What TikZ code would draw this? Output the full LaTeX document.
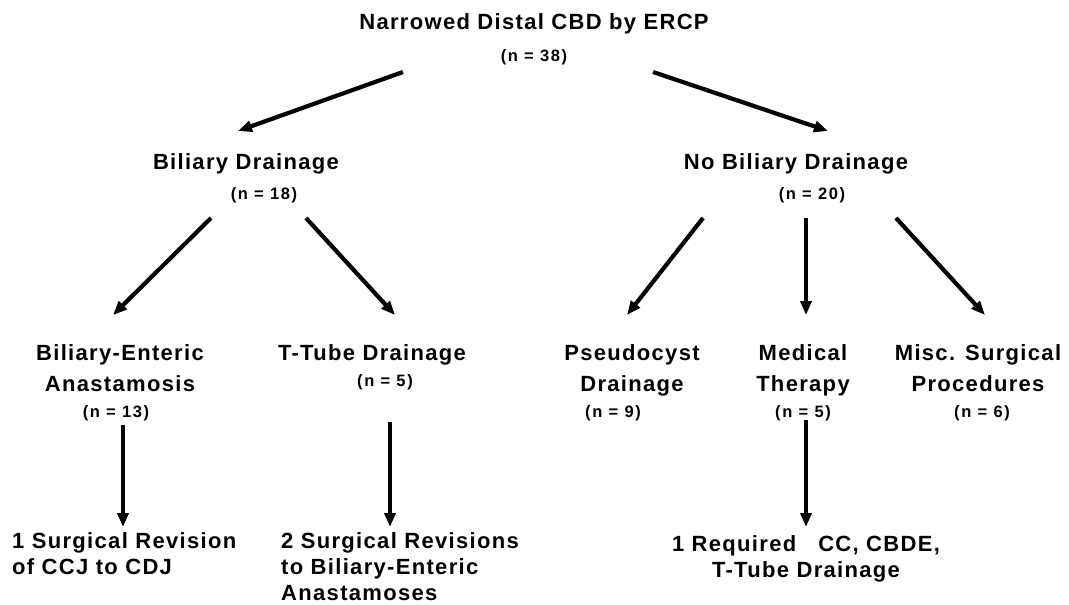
\documentclass[tikz,border=0pt]{standalone}
\usepackage{fontspec}
\setmainfont{Liberation Sans}[LetterSpace=6]
\newfontfamily\nfont{Liberation Sans}[LetterSpace=10]
\usetikzlibrary{arrows.meta}
\begin{document}
\begin{tikzpicture}[x=1pt,y=-1pt,
  ttl/.style={inner sep=0pt,font=\bfseries\fontsize{22}{31}\selectfont},
  low/.style={inner sep=0pt,font=\bfseries\fontsize{22}{26}\selectfont},
  nn/.style={inner sep=0pt,font=\nfont\bfseries\fontsize{16.5}{18}\selectfont},
  arr/.style={line width=4.2pt,-{Triangle[length=14pt,width=11pt]}}]
\useasboundingbox (0,0) rectangle (1069,605);
% level 1
\node[ttl,anchor=base] (top) at (534,29) {Narrowed Distal CBD by ERCP};
\node[nn,anchor=base] (topn) at (534,61) {(n = 38)};
% level 2
\node[ttl,anchor=base] (bd) at (246,169) {Biliary Drainage};
\node[nn,anchor=base] (bdn) at (264,199) {(n = 18)};
\node[ttl,anchor=base] (nbd) at (796,169) {No Biliary Drainage};
\node[nn,anchor=base] (nbdn) at (812,199) {(n = 20)};
% level 3
\node[ttl,anchor=north,align=center] (be) at (120,344) {Biliary-Enteric\\Anastamosis};
\node[nn,anchor=base] (ben) at (116,417) {(n = 13)};
\node[ttl,anchor=base] (tt) at (372,360) {T-Tube Drainage};
\node[nn,anchor=base] (ttn) at (385,386) {(n = 5)};
\node[ttl,anchor=north,align=center] (pc) at (632,344) {Pseudocyst\\Drainage};
\node[nn,anchor=base] (pcn) at (613,417) {(n = 9)};
\node[ttl,anchor=north,align=center] (mt) at (803,344) {Medical\\Therapy};
\node[nn,anchor=base] (mtn) at (803,417) {(n = 5)};
\node[ttl,anchor=north,align=center] (ms) at (978,344) {Misc. Surgical\\Procedures};
\node[nn,anchor=base] (msn) at (982,417) {(n = 6)};
% level 4
\node[low,anchor=north west,align=left] (r1) at (12,532) {1 Surgical Revision\\of CCJ to CDJ};
\node[low,anchor=north west,align=left] (r2) at (281,532) {2 Surgical Revisions\\to Biliary-Enteric\\Anastamoses};
\node[low,anchor=north,align=center] (r3) at (806,535) {1 Required\quad CC, CBDE,\\T-Tube Drainage};
% arrows
\draw[arr] ([shift={(-131,11)}]topn.base) -- ([shift={(-8,-38)}]bd.base);
\draw[arr] ([shift={(119,11)}]topn.base) -- ([shift={(32,-38)}]nbd.base);
\draw[arr] ([shift={(-53,19)}]bdn.base) -- ([shift={(-7,-29)}]be.north);
\draw[arr] ([shift={(42,19)}]bdn.base) -- ([shift={(23,-45)}]tt.base);
\draw[arr] ([shift={(-109,19)}]nbdn.base) -- ([shift={(-5,-29)}]pc.north);
\draw[arr] ([shift={(-6,19)}]nbdn.base) -- ([shift={(3,-29)}]mt.north);
\draw[arr] ([shift={(84,19)}]nbdn.base) -- ([shift={(7,-29)}]ms.north);
\draw[arr] ([shift={(7,8)}]ben.base) -- ([shift={(111,-5)}]r1.north west);
\draw[arr] ([shift={(5,36)}]ttn.base) -- ([shift={(109,-5)}]r2.north west);
\draw[arr] ([shift={(3,3)}]mtn.base) -- ([shift={(0,-8)}]r3.north);
\end{tikzpicture}
\end{document}
